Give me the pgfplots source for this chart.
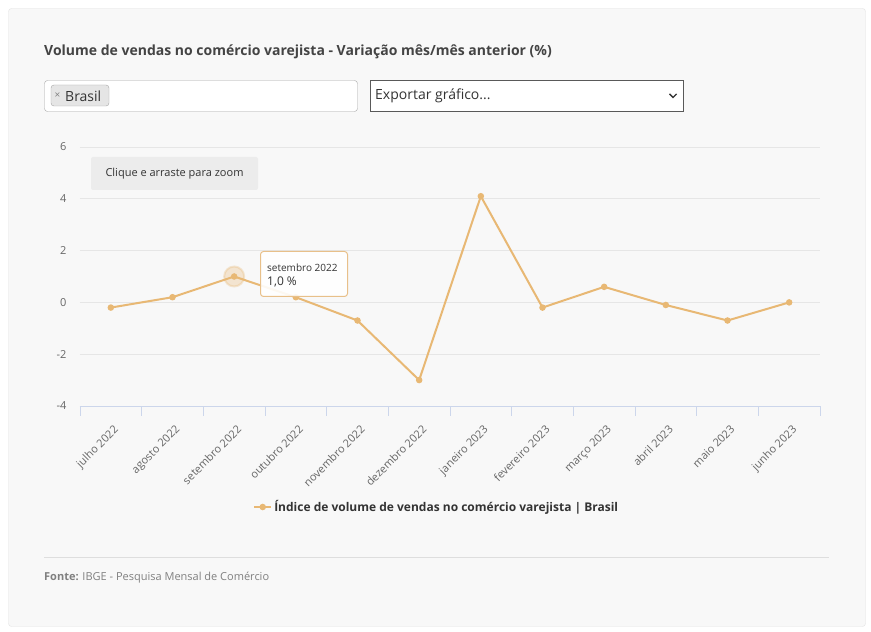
\documentclass[border=0pt]{standalone}
\usepackage{fontspec}
\setmainfont{Open Sans}
\usepackage{pgfplots}
\pgfplotsset{compat=1.18}
\definecolor{lineC}{RGB}{232,184,116}
\definecolor{panel}{RGB}{248,248,248}
\definecolor{panelborder}{RGB}{226,226,226}
\definecolor{gridC}{RGB}{230,230,230}
\definecolor{axisC}{RGB}{204,214,235}
\definecolor{tickC}{RGB}{102,102,102}
\definecolor{darktext}{RGB}{51,51,51}
\definecolor{titletext}{RGB}{68,68,68}
\definecolor{zoombox}{RGB}{236,236,236}
\definecolor{ttborder}{RGB}{232,192,138}
\begin{document}
\begin{tikzpicture}
\begin{scope}[x=1pt,y=1pt]
\path[use as bounding box] (0,0) rectangle (871,632);
\fill[white] (0,0) rectangle (871,632);
\end{scope}
\begin{scope}[x=1pt,y=-1pt,shift={(0pt,632pt)}]
  % panel
  \draw[panelborder,fill=panel,rounded corners=3pt] (8.5,8.5) rectangle (865.5,626.5);
  % title
  \node[anchor=west,text=titletext,font=\bfseries\fontsize{14}{17}\selectfont,inner sep=0pt] at (44,52) {Volume de vendas no comércio varejista - Variação mês/mês anterior (\%)};
  % input box 1
  \draw[black!35,fill=white,rounded corners=3pt] (44.5,80.5) rectangle (357.5,111.5);
  \draw[black!35,fill=black!10,rounded corners=3pt] (51,85) rectangle (109,106);
  \node[anchor=west,text=black!50,font=\fontsize{10}{12}\selectfont,inner sep=0pt] at (54.5,96) {×};
  \node[anchor=west,text=darktext,font=\fontsize{14}{16}\selectfont,inner sep=0pt] at (65,96) {Brasil};
  % input box 2
  \draw[black!65,fill=white] (370.5,80.5) rectangle (683.5,111.5);
  \node[anchor=west,text=darktext,font=\fontsize{14}{16}\selectfont,inner sep=0pt] at (375,96) {Exportar gráfico...};
  \draw[black!80,line width=1.4pt] (669.5,94) -- (673,97.5) -- (676.5,94);
  % zoom hint box
  \fill[zoombox,rounded corners=2pt] (91,157) rectangle (258,190);
  \node[text=darktext,font=\fontsize{11}{13}\selectfont,inner sep=0pt] at (174.5,174) {Clique e arraste para zoom};
  % separator and source
  \draw[black!13] (44,557.5) -- (829,557.5);
  \node[anchor=west,text=black!50,font=\fontsize{11}{13}\selectfont,inner sep=0pt] at (44,578) {\textbf{Fonte:} IBGE - Pesquisa Mensal de Comércio};
\end{scope}
\begin{axis}[
  at={(80pt,226pt)}, anchor=south west,
  scale only axis, width=740pt, height=259pt,
  xmin=-0.5, xmax=11.5, ymin=-4, ymax=6,
  axis x line*=bottom, axis y line*=left,
  y axis line style={draw=none},
  x axis line style={axisC, line width=0.8pt},
  ytick={-4,-2,0,2,4,6},
  ymajorgrids, grid style={gridC, line width=0.8pt},
  ytick style={draw=none},
  xtick={0,...,11},
  xticklabels={julho 2022,agosto 2022,setembro 2022,outubro 2022,novembro 2022,dezembro 2022,janeiro 2023,fevereiro 2023,março 2023,abril 2023,maio 2023,junho 2023},
  major tick length=0pt,
  extra x ticks={-0.5,0.5,...,11.5},
  extra x tick labels={},
  extra x tick style={major tick length=10pt, tick align=outside, major tick style={draw=axisC, line width=0.8pt}, grid=none},
  x tick label style={rotate=45, anchor=north east, font=\fontsize{11}{13}\selectfont, text=tickC, xshift=-8pt, yshift=-11pt},
  y tick label style={font=\fontsize{11}{13}\selectfont, text=tickC},
  yticklabel style={xshift=-10pt},
  /pgf/number format/assume math mode=true,
  legend style={at={(0.482,-0.39)}, anchor=center, draw=none, fill=none, font=\bfseries\fontsize{12}{14}\selectfont, text=darktext},
  legend cell align=left,
  clip=false,
]
\addplot[lineC, line width=2pt, opacity=0.3, mark=*, mark size=10pt, only marks, forget plot, mark options={draw=none, fill=lineC}] coordinates {(2,1.0)};
\addplot[lineC, line width=2pt, mark=*, mark size=2.2pt, mark options={draw=none, fill=lineC}] coordinates {
(0,-0.2) (1,0.2) (2,1.0) (3,0.2) (4,-0.7) (5,-3.0) (6,4.1) (7,-0.2) (8,0.6) (9,-0.1) (10,-0.7) (11,0.0)
};
\addlegendentry{Índice de volume de vendas no comércio varejista | Brasil}
\end{axis}
\begin{scope}[x=1pt,y=-1pt,shift={(0pt,632pt)}]
  \draw[ttborder,fill=white,fill opacity=0.9,rounded corners=3pt,line width=1pt] (260.5,251.5) rectangle (347.5,296.5);
  \node[anchor=west,text=darktext,font=\fontsize{10}{12}\selectfont,inner sep=0pt] at (267,268) {setembro 2022};
  \node[anchor=west,text=darktext,font=\fontsize{12}{14}\selectfont,inner sep=0pt] at (267,282) {1,0 \%};
\end{scope}
\end{tikzpicture}
\end{document}
